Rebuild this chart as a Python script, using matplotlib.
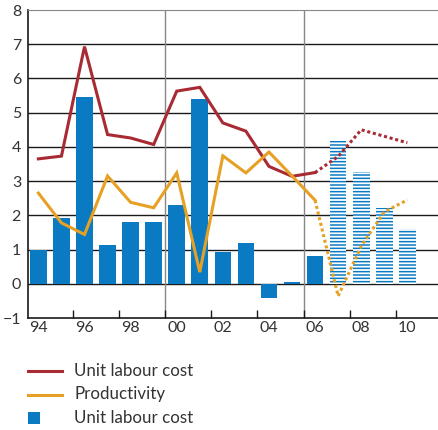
import numpy as np
import matplotlib.pyplot as plt
from matplotlib.lines import Line2D
from matplotlib.patches import Rectangle

plt.rcParams['font.family'] = ['Lato', 'DejaVu Sans']
plt.rcParams['hatch.linewidth'] = 1.1

years = list(range(1994, 2011))
tick_labels = ['94', '96', '98', '00', '02', '04', '06', '08', '10']

# unit labour cost, bars (2007-2010 projections are hatched)
ulc_bars = [1.0, 1.92, 5.45, 1.13, 1.8, 1.8, 2.3, 5.39, 0.92, 1.19, -0.42, 0.04, 0.8,
            4.16, 3.27, 2.21, 1.6]
# unit labour cost, line
ulc_line = [3.65, 3.73, 6.93, 4.36, 4.26, 4.07, 5.63, 5.74, 4.7, 4.46, 3.43, 3.14, 3.25,
            3.72, 4.5, 4.31, 4.12]
productivity = [2.65, 1.78, 1.44, 3.15, 2.38, 2.22, 3.24, 0.34, 3.74, 3.24, 3.85, 3.15, 2.44,
                -0.36, 1.1, 2.1, 2.45]
n_actual = 13  # up to and including 2006

red = '#a82a33'
orange = '#e6a125'
blue = '#0a7bc2'

fig = plt.figure(figsize=(4.38, 4.30), dpi=100)
ax = fig.add_axes([28 / 438, 1 - 318 / 430, 1 - 28 / 438, 308 / 430])

x = np.arange(len(years))

for yv in range(0, 8):
    ax.axhline(yv, color='#1a1a1a', lw=1.0, zorder=1)
for xv in [5.5, 11.5]:
    ax.axvline(xv, color='#888888', lw=1.0, zorder=1)

ax.bar(x[:n_actual], ulc_bars[:n_actual], width=0.72, color=blue, zorder=2)
ax.bar(x[n_actual:], ulc_bars[n_actual:], width=0.72, facecolor='white',
       edgecolor=blue, hatch='-----', lw=0, zorder=2)

ax.plot(x[:n_actual], ulc_line[:n_actual], color=red, lw=2.2, zorder=3,
        solid_joinstyle='miter')
ax.plot(x[n_actual - 1:], ulc_line[n_actual - 1:], color=red, lw=2.2, zorder=3,
        linestyle=(0, (1, 0.9)))
ax.plot(x[:n_actual], productivity[:n_actual], color=orange, lw=2.2, zorder=3,
        solid_joinstyle='miter')
ax.plot(x[n_actual - 1:], productivity[n_actual - 1:], color=orange, lw=2.2, zorder=3,
        linestyle=(0, (1, 0.9)))

ax.set_xlim(-0.45, 17.33)
ax.set_ylim(-1, 8)
ax.set_yticks(range(-1, 9))
ax.tick_params(axis='y', length=0, pad=5, labelsize=11.5, labelcolor='#333333')

ax.set_xticks(np.arange(1.5, 16, 2))
ax.set_xticklabels([])
ax.tick_params(axis='x', direction='in', length=6, width=1.0, color='#1a1a1a')
ax.set_xticks(np.arange(0, 17, 2), minor=True)
ax.set_xticklabels(tick_labels, minor=True)
ax.tick_params(axis='x', which='minor', length=0, pad=2, labelsize=11.5, labelcolor='#333333')

for s in ['left', 'bottom']:
    ax.spines[s].set_color('#1a1a1a')
    ax.spines[s].set_linewidth(1.2)
ax.spines['top'].set_color('#888888')
ax.spines['right'].set_visible(False)

# legend
legend_items = [('line', red, 'Unit labour cost'),
                ('line', orange, 'Productivity'),
                ('box', blue, 'Unit labour cost')]
for i, (kind, col, label) in enumerate(legend_items):
    yc = 1 - (371 + i * 23.5) / 430
    if kind == 'line':
        fig.add_artist(Line2D([28 / 438, 62 / 438], [yc, yc], color=col, lw=2.2))
    else:
        fig.add_artist(Rectangle((28 / 438, yc - 6 / 430), 12 / 438, 12 / 430,
                                 color=col, lw=0))
    fig.text(74 / 438, yc, label, fontsize=12.2, color='#333333', va='center')

fig.savefig('out.png', dpi=100)
